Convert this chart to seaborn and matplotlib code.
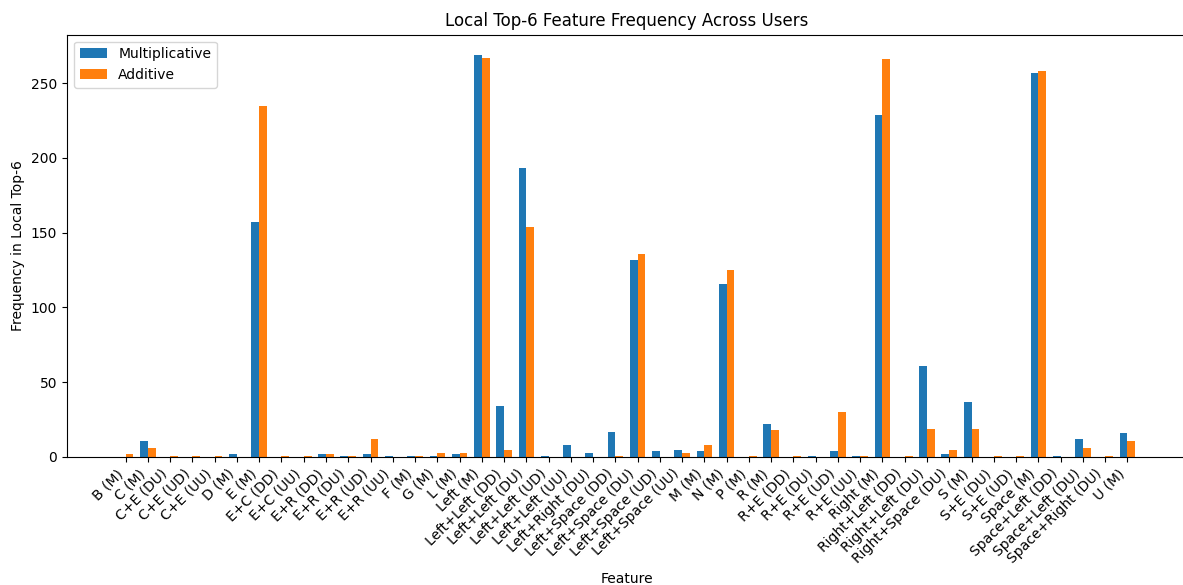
import matplotlib
matplotlib.use("Agg")
import matplotlib.pyplot as plt
import pandas as pd
import seaborn as sns

features = [
    "B (M)", "C (M)", "C+E (DU)", "C+E (UD)", "C+E (UU)", "D (M)", "E (M)",
    "E+C (DD)", "E+C (UU)", "E+R (DD)", "E+R (DU)", "E+R (UD)", "E+R (UU)",
    "F (M)", "G (M)", "L (M)", "Left (M)", "Left+Left (DD)", "Left+Left (DU)",
    "Left+Left (UD)", "Left+Left (UU)", "Left+Right (DU)", "Left+Space (DD)",
    "Left+Space (DU)", "Left+Space (UD)", "Left+Space (UU)", "M (M)", "N (M)",
    "P (M)", "R (M)", "R+E (DD)", "R+E (DU)", "R+E (UD)", "R+E (UU)",
    "Right (M)", "Right+Left (DD)", "Right+Left (DU)", "Right+Space (DU)",
    "S (M)", "S+E (DU)", "S+E (UD)", "Space (M)", "Space+Left (DD)",
    "Space+Left (DU)", "Space+Right (DU)", "U (M)",
]

multiplicative = [
    0, 11, 0, 0, 0, 2, 157,
    0, 0, 2, 1, 2, 1,
    1, 1, 2, 269, 34, 193,
    1, 8, 3, 17,
    132, 4, 5, 4, 116,
    0, 22, 0, 1, 4, 1,
    229, 0, 61, 2,
    37, 0, 0, 257, 1,
    12, 0, 16,
]

additive = [
    2, 6, 1, 1, 1, 0, 235,
    1, 1, 2, 1, 12, 0,
    1, 3, 3, 267, 5, 154,
    0, 0, 0, 1,
    136, 0, 3, 8, 125,
    1, 18, 1, 0, 30, 1,
    266, 1, 19, 5,
    19, 1, 1, 258, 0,
    6, 1, 11,
]

series_names = ["Multiplicative", "Additive"]

df = pd.DataFrame({
    "Feature": features * 2,
    "Count": multiplicative + additive,
    "Method": [series_names[0]] * len(features) + [series_names[1]] * len(features),
})

fig = plt.figure(figsize=(11.83, 5.85), dpi=100)
ax = fig.add_axes([67 / 1183, 1 - 457 / 585, (1186 - 67) / 1183, (457 - 34.7) / 585])

sns.barplot(
    data=df, x="Feature", y="Count", hue="Method",
    order=features, hue_order=series_names,
    palette=["#1f77b4", "#ff7f0e"], saturation=1,
    width=0.7, gap=0, errorbar=None, ax=ax,
)

n = len(features)
pad = 0.05 * (n - 1 + 0.7)
ax.set_xlim(-0.35 - pad, n - 1 + 0.35 + pad)
ax.set_ylim(0, max(max(multiplicative), max(additive)) * 1.05)

ax.set_xticks(range(n))
ax.set_xticklabels(features, rotation=45, ha="right")
ax.set_xlabel("Feature")
ax.set_ylabel("Frequency in Local Top-6")
ax.set_title("Local Top-6 Feature Frequency Across Users")
ax.legend(loc="upper left")

fig.savefig("out.png", dpi=100)
